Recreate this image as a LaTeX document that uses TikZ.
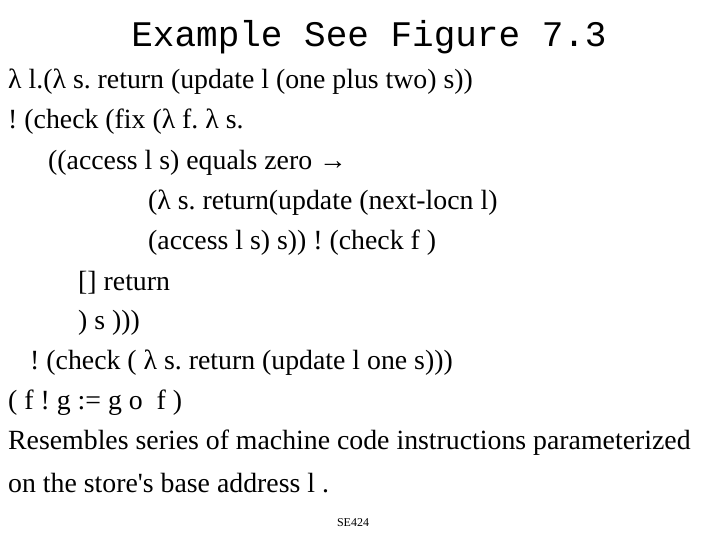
\documentclass[tikz,border=0pt]{standalone}
\usepackage{fontspec}
\setmainfont{Liberation Serif}[Ligatures=TeXOff]
\newfontfamily\courfont{Liberation Mono}
\frenchspacing
\begin{document}
\begin{tikzpicture}[x=1pt,y=-1pt,
  body/.style={anchor=west,inner sep=0pt,font=\fontsize{27.8}{32}\selectfont}]
\useasboundingbox (0,0) rectangle (720,540);
\node[inner sep=0pt,font=\courfont\fontsize{36}{40}\selectfont] (title) at (369,37) {Example See Figure 7.3};
\node[body] (l1) at (8,82) {λ l.(λ s. return (update l (one plus two) s))};
\node[body] (l2) at (8,122) {! (check (fix (λ f. λ s.};
\node[body] (l3) at (48,163) {((access l s) equals zero →};
\node[body] (l4) at (148,203) {(λ s. return(update (next-locn l)};
\node[body] (l5) at (148,243) {(access l s) s)) ! (check f )};
\node[body] (l6) at (78,283) {[] return};
\node[body] (l7) at (78,323) {) s )))};
\node[body] (l8) at (30,363) {! (check ( λ s. return (update l one s)))};
\node[body] (l9) at (8,403) {( f ! g := g o \ f )};
\node[body] (l10) at (8,443) {Resembles series of machine code instructions parameterized};
\node[body] (l11) at (8,483) {on the store's base address l .};
\node[inner sep=0pt,font=\fontsize{12}{14}\selectfont] (foot) at (353,523) {SE424};
\end{tikzpicture}
\end{document}
